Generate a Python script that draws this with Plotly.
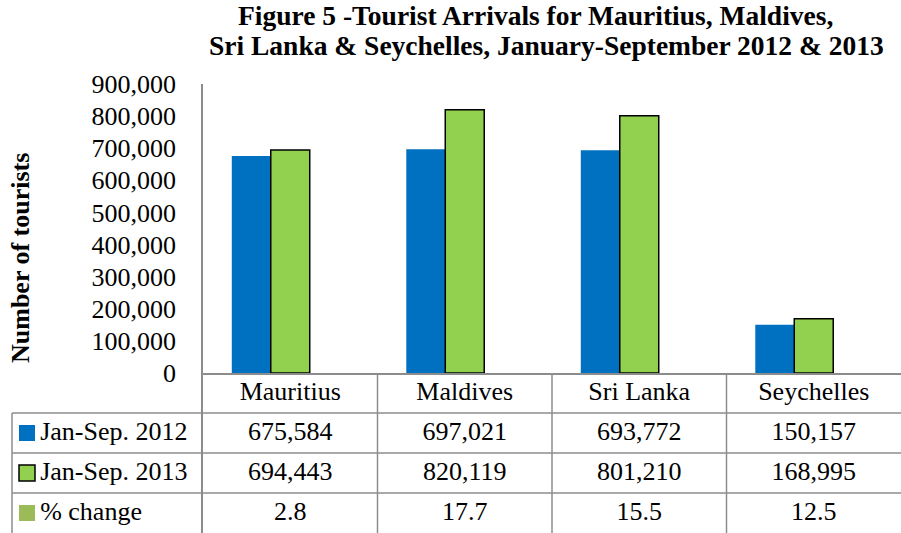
import plotly.graph_objects as go

# ---- data ----
categories = ["Mauritius", "Maldives", "Sri Lanka", "Seychelles"]
arrivals_2012 = [675584, 697021, 693772, 150157]
arrivals_2013 = [694443, 820119, 801210, 168995]
pct_change = [2.8, 17.7, 15.5, 12.5]
series_labels = ["Jan-Sep. 2012", "Jan-Sep. 2013", "% change"]
y_tick_values = [0, 100000, 200000, 300000, 400000, 500000, 600000, 700000, 800000, 900000]
title_lines = ["Figure 5 -Tourist Arrivals for Mauritius, Maldives,",
               "Sri Lanka & Seychelles, January-September 2012 & 2013"]
y_title = "Number of tourists"

# ---- style ----
W, H = 901, 533
FONT = "Liberation Serif"
BLUE = "#0070C0"
GREEN = "#92D050"
OLIVE = "#9BBB59"
GRID = "#8C8C8C"
FS = 26

plot_left = 203 / W
table_left = 12 / W
bar_bottom = (H - 373) / H
bar_top = (H - 84) / H

fig = go.Figure()

# the three series share the same axis; the % change bars are far below one pixel at this scale
fig.add_trace(go.Bar(x=categories, y=arrivals_2012, name=series_labels[0],
                     marker=dict(color=BLUE, line=dict(width=0)),
                     xaxis="x", yaxis="y"))
fig.add_trace(go.Bar(x=categories, y=arrivals_2013, name=series_labels[1],
                     marker=dict(color=GREEN, line=dict(color="black", width=1.5)),
                     xaxis="x", yaxis="y"))
fig.add_trace(go.Bar(x=categories, y=pct_change, name=series_labels[2],
                     marker=dict(color=OLIVE, line=dict(width=0), opacity=0),
                     xaxis="x", yaxis="y"))

# ---- data table ----
rows = [
    categories,
    [f"{v:,}" for v in arrivals_2012],
    [f"{v:,}" for v in arrivals_2013],
    [f"{v:.1f}" for v in pct_change],
]
for r, texts in enumerate(rows):
    fig.add_trace(go.Scatter(x=categories, y=[r + 0.5] * len(categories), text=texts,
                             mode="text", textfont=dict(family=FONT, size=FS, color="black"),
                             xaxis="x2", yaxis="y2", hoverinfo="skip", showlegend=False))

# legend keys inside the table's first column
swatch_colors = [BLUE, GREEN, OLIVE]
swatch_lines = [0, 1.5, 0]
for i, lab in enumerate(series_labels):
    fig.add_trace(go.Scatter(x=[27], y=[i + 1.5], text=["\u200a" + lab], mode="markers+text",
                             textposition="middle right",
                             marker=dict(symbol="square", size=16, color=swatch_colors[i],
                                         line=dict(color="black", width=swatch_lines[i])),
                             textfont=dict(family=FONT, size=FS, color="black"),
                             xaxis="x3", yaxis="y2", hoverinfo="skip", showlegend=False))

shapes = []
n_rows = len(rows)
for r in range(1, n_rows):
    shapes.append(dict(type="line", xref="paper", yref="y2", x0=table_left, x1=1,
                       y0=r, y1=r, line=dict(color=GRID, width=1.5)))
for i in range(len(categories) - 1):
    shapes.append(dict(type="line", xref="x2", yref="y2", x0=i + 0.5, x1=i + 0.5,
                       y0=0, y1=n_rows, line=dict(color=GRID, width=1.5)))
shapes.append(dict(type="line", xref="paper", yref="y2", x0=table_left, x1=table_left,
                   y0=1, y1=n_rows, line=dict(color=GRID, width=1.5)))

annotations = [
    dict(text="<b>" + title_lines[0] + "</b>", x=535 / W, y=(H - 16) / H,
         xref="paper", yref="paper", showarrow=False, xanchor="center", yanchor="middle",
         font=dict(family=FONT, size=27.5, color="black")),
    dict(text="<b>" + title_lines[1] + "</b>", x=546 / W, y=(H - 45) / H,
         xref="paper", yref="paper", showarrow=False, xanchor="center", yanchor="middle",
         font=dict(family=FONT, size=27.5, color="black")),
    dict(text="<b>" + y_title + "</b>", x=20 / W, y=(H - 258) / H, textangle=-90,
         xref="paper", yref="paper", showarrow=False, xanchor="center", yanchor="middle",
         font=dict(family=FONT, size=FS, color="black")),
]

fig.update_layout(
    width=W, height=H, autosize=False,
    margin=dict(l=0, r=0, t=0, b=0, pad=0),
    paper_bgcolor="white", plot_bgcolor="white",
    showlegend=False,
    barmode="group", bargap=0.33, bargroupgap=0,
    font=dict(family=FONT, size=FS, color="black"),
    xaxis=dict(domain=[plot_left, 1], range=[-0.5, len(categories) - 0.5],
               showticklabels=False, ticks="", showgrid=False, zeroline=False, automargin=False,
               showline=True, linecolor=GRID, linewidth=1.5, anchor="y", fixedrange=True),
    yaxis=dict(domain=[bar_bottom, bar_top], range=[0, 900000], tickvals=y_tick_values,
               tickformat=",", ticks="", showgrid=False, zeroline=False, automargin=False,
               showline=True, linecolor=GRID, linewidth=1.5, ticklabelstandoff=20,
               tickfont=dict(family=FONT, size=FS, color="black"), anchor="x"),
    xaxis2=dict(domain=[plot_left, 1], matches="x", showticklabels=False, ticks="",
                showgrid=False, zeroline=False, showline=False, anchor="y2", automargin=False),
    yaxis2=dict(domain=[0, bar_bottom], range=[n_rows, 0], showticklabels=False, ticks="",
                showgrid=False, zeroline=False, showline=True, linecolor=GRID,
                linewidth=1.5, anchor="x2", automargin=False),
    xaxis3=dict(domain=[0, plot_left], range=[0, 203], visible=False, anchor="y2",
                automargin=False),
    shapes=shapes,
    annotations=annotations,
)

fig.write_html("out.html", config={"displayModeBar": False},
               post_script="document.body.style.margin='0';")
